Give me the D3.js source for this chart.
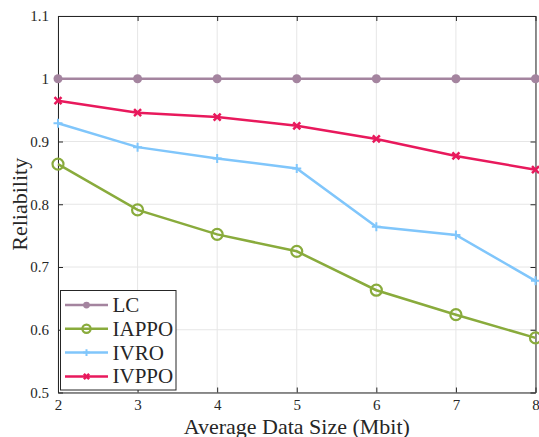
<!DOCTYPE html>
<html>
<head>
<meta charset="utf-8">
<script src="https://cdn.jsdelivr.net/npm/d3@7"></script>
<style>
  body { margin: 0; background: #fff; }
  text { font-family: "Liberation Serif", "Times New Roman", serif; fill: #262626; }
</style>
</head>
<body>
<div id="chart"></div>
<script>
const xValues = [2, 3, 4, 5, 6, 7, 8];
const seriesNames = ["LC", "IAPPO", "IVRO", "IVPPO"];
const lcValues = [1, 1, 1, 1, 1, 1, 1];
const iappoValues = [0.864, 0.791, 0.752, 0.725, 0.663, 0.624, 0.587];
const ivroValues = [0.929, 0.891, 0.873, 0.857, 0.764, 0.751, 0.678];
const ivppoValues = [0.965, 0.946, 0.939, 0.925, 0.904, 0.877, 0.855];
const yTicks = [0.5, 0.6, 0.7, 0.8, 0.9, 1, 1.1];
const colors = ["#a4849f", "#89ab3c", "#80c6fb", "#e8195c"];
const markers = ["dot", "ring", "plus", "cross"];

const width = 539, height = 437;
const margin = { left: 58, right: 3.5, top: 16, bottom: 44.5 };

const svg = d3.select("#chart").append("svg")
  .attr("width", width)
  .attr("height", height);

const x = d3.scaleLinear().domain([2, 8]).range([margin.left, width - margin.right]);
const y = d3.scaleLinear().domain([0.5, 1.1]).range([height - margin.bottom, margin.top]);

// grid
svg.append("g")
  .selectAll("line.vx")
  .data(xValues)
  .enter().append("line")
  .attr("x1", d => x(d)).attr("x2", d => x(d))
  .attr("y1", y(0.5)).attr("y2", y(1.1))
  .attr("stroke", "#e6e6e6").attr("stroke-width", 1);
svg.append("g")
  .selectAll("line.hy")
  .data(yTicks)
  .enter().append("line")
  .attr("x1", x(2)).attr("x2", x(8))
  .attr("y1", d => y(d)).attr("y2", d => y(d))
  .attr("stroke", "#e6e6e6").attr("stroke-width", 1);

// axes (ticks pointing inward)
const fmt = d => d3.format("")(+d.toFixed(1));
svg.append("g")
  .attr("transform", `translate(0,${y(0.5)})`)
  .call(d3.axisBottom(x).tickValues(xValues).tickSizeInner(-5).tickSizeOuter(0).tickPadding(7).tickFormat(d3.format("d")))
  .call(g => g.select(".domain").attr("stroke", "#262626"))
  .call(g => g.selectAll(".tick line").attr("stroke", "#262626"))
  .call(g => g.selectAll("text").attr("font-size", 15).attr("font-family", "Liberation Serif"));
svg.append("g")
  .attr("transform", `translate(${x(2)},0)`)
  .call(d3.axisLeft(y).tickValues(yTicks).tickSizeInner(-5).tickSizeOuter(0).tickPadding(9).tickFormat(fmt))
  .call(g => g.select(".domain").attr("stroke", "#262626"))
  .call(g => g.selectAll(".tick line").attr("stroke", "#262626"))
  .call(g => g.selectAll("text").attr("font-size", 15).attr("font-family", "Liberation Serif"));
svg.append("g")
  .attr("transform", `translate(0,${y(1.1)})`)
  .call(d3.axisTop(x).tickValues(xValues).tickSizeInner(-5).tickSizeOuter(0).tickFormat(""))
  .call(g => g.selectAll("path,line").attr("stroke", "#262626"));
svg.append("g")
  .attr("transform", `translate(${x(8)},0)`)
  .call(d3.axisRight(y).tickValues(yTicks).tickSizeInner(-5).tickSizeOuter(0).tickFormat(""))
  .call(g => g.selectAll("path,line").attr("stroke", "#262626"));

// axis labels
svg.append("text")
  .attr("x", (x(2) + x(8)) / 2).attr("y", 434)
  .attr("text-anchor", "middle").attr("font-size", 22)
  .text("Average Data Size (Mbit)");
svg.append("text")
  .attr("transform", `translate(27,${(y(0.5) + y(1.1)) / 2}) rotate(-90)`)
  .attr("text-anchor", "middle").attr("font-size", 22)
  .text("Reliability");

const allSeries = [lcValues, iappoValues, ivroValues, ivppoValues];

function drawMarker(g, type, color, cx, cy, s) {
  s = s || 1;
  if (type === "dot") {
    g.append("circle").attr("cx", cx).attr("cy", cy).attr("r", 4.5 * s).attr("fill", color);
  } else if (type === "ring") {
    g.append("circle").attr("cx", cx).attr("cy", cy).attr("r", 5.5 * s)
      .attr("fill", "none").attr("stroke", color).attr("stroke-width", 2.2);
  } else if (type === "plus") {
    const r = 4.5 * s;
    g.append("path").attr("d", `M${cx - r},${cy}H${cx + r}M${cx},${cy - r}V${cy + r}`)
      .attr("stroke", color).attr("stroke-width", 2);
  } else {
    const r = 3.5 * s;
    g.append("path").attr("d", `M${cx - r},${cy - r}L${cx + r},${cy + r}M${cx - r},${cy + r}L${cx + r},${cy - r}`)
      .attr("stroke", color).attr("stroke-width", 2.5);
  }
}

const line = d3.line().x((d, i) => x(xValues[i])).y(d => y(d));
allSeries.forEach((vals, k) => {
  const g = svg.append("g");
  g.append("path").datum(vals).attr("d", line)
    .attr("fill", "none").attr("stroke", colors[k]).attr("stroke-width", 2.5);
  vals.forEach((v, i) => drawMarker(g, markers[k], colors[k], x(xValues[i]), y(v)));
});

// legend
const lg = svg.append("g").attr("transform", "translate(60.5,290.5)");
lg.append("rect").attr("width", 115.5).attr("height", 99.5)
  .attr("fill", "#fff").attr("stroke", "#262626").attr("stroke-width", 1);
seriesNames.forEach((name, k) => {
  const cy = 14.5 + k * 23.8;
  lg.append("line").attr("x1", 4.5).attr("x2", 47.5).attr("y1", cy).attr("y2", cy)
    .attr("stroke", colors[k]).attr("stroke-width", 2.5);
  drawMarker(lg, markers[k], colors[k], 26, cy, 0.75);
  lg.append("text").attr("x", 52).attr("y", cy + 7).attr("font-size", 21).text(name);
});
</script>
</body>
</html>
